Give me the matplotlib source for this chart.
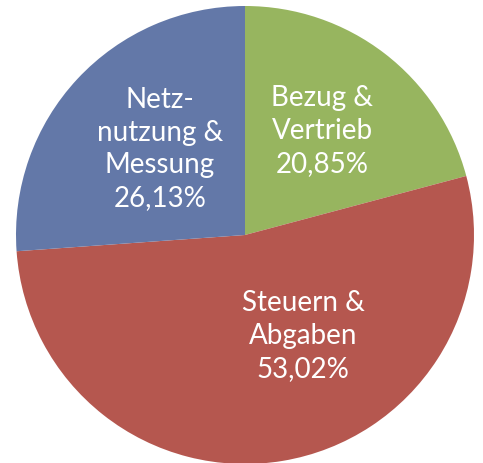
import matplotlib
matplotlib.use("Agg")
import matplotlib.pyplot as plt

categories = ["Bezug &\nVertrieb", "Steuern &\nAbgaben", "Netz-\nnutzung &\nMessung"]
shares = [20.85, 53.02, 26.13]
colors = ["#97B55F", "#B5574F", "#6378A8"]

W, H = 483, 463
fig = plt.figure(figsize=(W / 100, H / 100), dpi=100)
ax = fig.add_axes([0, 0, 1, 1])

cx, cy, r = 245, H - 235, 229
wedges, _ = ax.pie(shares, colors=colors, startangle=90, counterclock=False,
                   center=(cx, cy), radius=r, frame=True,
                   wedgeprops=dict(linewidth=0))
ax.set_xlim(0, W)
ax.set_ylim(0, H)
ax.set_aspect("equal")
ax.axis("off")

label_pos = [(322, H - 131), (303, H - 336), (160, H - 149)]
for cat, val, (x, y) in zip(categories, shares, label_pos):
    txt = f"{cat}\n{val:.2f}%".replace(".", ",")
    ax.text(x, y, txt, ha="center", va="center", color="white",
            fontsize=20, family="Lato", linespacing=1.33)

fig.savefig("out.png", dpi=100)
